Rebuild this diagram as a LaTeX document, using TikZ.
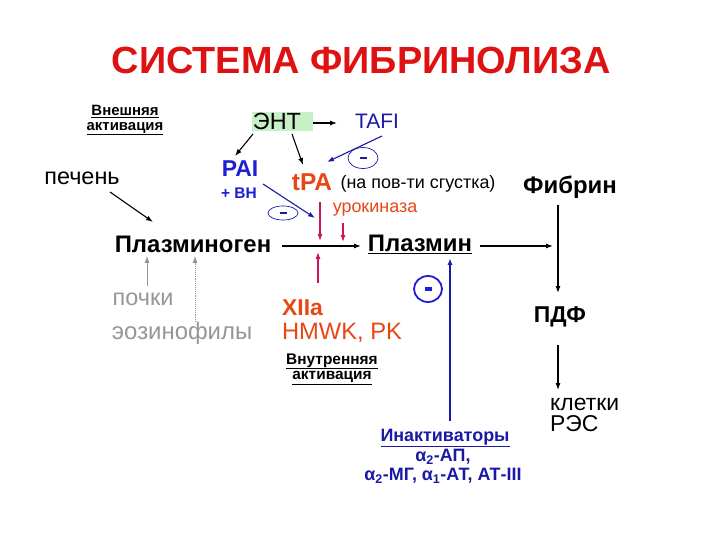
\documentclass[tikz,border=0pt]{standalone}
\usepackage{fontspec}
\setmainfont{Liberation Sans}
\usetikzlibrary{arrows.meta,shapes.geometric}
\definecolor{ttlred}{RGB}{222,18,18}
\definecolor{pblue}{RGB}{30,30,215}
\definecolor{dblue}{RGB}{25,25,165}
\definecolor{ored}{RGB}{232,70,20}
\definecolor{mag}{RGB}{205,20,95}
\definecolor{gry}{RGB}{150,150,150}
\definecolor{lgreen}{RGB}{200,240,200}
\newcommand\myfs[1]{\fontsize{#1}{#1}\selectfont}
\tikzset{
  txt/.style={inner sep=0pt, align=center},
  arr/.style={-{Latex[length=7pt,width=5pt]}, line width=1.1pt},
  minus/.style={ellipse, draw=dblue, line width=0.7pt, inner sep=0pt,
    path picture={\draw[draw=dblue, line width=2.6pt]
      ([xshift=-3.5bp]path picture bounding box.center) -- ([xshift=3.5bp]path picture bounding box.center);}},
  minusb/.style={ellipse, draw=pblue, line width=1.8pt, inner sep=0pt,
    path picture={\draw[draw=pblue, line width=3.5pt]
      ([xshift=-3.5bp]path picture bounding box.center) -- ([xshift=3.5bp]path picture bounding box.center);}},
}
\begin{document}
\begin{tikzpicture}[x=1bp,y=-1bp]
\useasboundingbox[fill=white] (0,0) rectangle (720,540);

\node[txt, text=ttlred, font=\bfseries\myfs{38}] (title) at (361,60) {СИСТЕМА ФИБРИНОЛИЗА};

\node[txt, font=\bfseries\myfs{15}] (ext) at (125,120) {\underline{Внешняя}\\[0pt]\underline{активация}};

\node[txt, fill=lgreen, minimum width=61bp, minimum height=19bp] (ent) at (282,122) {};
\node[txt, font=\myfs{23.5}] (entt) at (277,121) {ЭНТ};
\node[txt, text=dblue, font=\myfs{21}] (tafi) at (377,121) {TAFI};

\node[txt, text=pblue, font=\bfseries\myfs{23}] (pai) at (240,169) {PAI};
\node[txt, text=pblue, font=\bfseries\myfs{15.5}] (vn) at (239,193) {+ ВН};
\node[txt, text=ored, font=\bfseries\myfs{24.5}] (tpa) at (312,182) {tPA};
\node[txt, font=\myfs{18}] (surf) at (418,184) {(на пов-ти сгустка)};
\node[txt, font=\bfseries\myfs{24}] (fib) at (570,187) {Фибрин};
\node[txt, text=ored, font=\myfs{18}] (uro) at (375,210) {урокиназа};

\node[txt, font=\myfs{23.5}] (liver) at (82,178) {печень};

\node[txt, font=\bfseries\myfs{24}] (plg) at (193,244) {Плазминоген};
\node[txt, font=\bfseries\myfs{24}] (pl) at (420,244) {\underline{Плазмин}};

\node[txt, font=\bfseries\myfs{23}] (pdf) at (560,317) {ПДФ};
\node[txt, font=\myfs{23}, align=left, anchor=west] (res) at (550,415) {клетки\\[-2pt]РЭС};

\node[txt, text=gry, font=\myfs{23.5}] (kid) at (143,299) {почки};
\node[txt, text=gry, font=\myfs{24}] (eos) at (182,333) {эозинофилы};

\node[txt, text=ored, font=\bfseries\myfs{23}, anchor=west] (xii) at (282,308) {XIIa};
\node[txt, text=ored, font=\myfs{23.8}] (hmwk) at (342,333) {HMWK, PK};

\node[txt, font=\bfseries\myfs{15.5}] (int) at (332,369) {\underline{Внутренняя}\\[0pt]\underline{активация}};

\node[txt, text=dblue, font=\bfseries\myfs{18}] (inact) at (445,438) {\underline{Инактиваторы}};
\node[txt, text=dblue, font=\bfseries\myfs{18}] (a2ap) at (443,457) {α\textsubscript{2}-АП,};
\node[txt, text=dblue, font=\bfseries\myfs{18}] (a2mg) at (443,476) {α\textsubscript{2}-МГ, α\textsubscript{1}-АТ, АТ-III};

% minus ellipses
\node[minus, minimum width=30bp, minimum height=21bp] (m1) at (363,158) {};
\node[minus, minimum width=30bp, minimum height=14bp] (m2) at (283,213) {};
\node[minusb, minimum width=28bp, minimum height=26bp] (m3) at (428,289) {};

% coordinates
\coordinate (ea) at (313,123);
\coordinate (eb) at (337,123);
\coordinate (t1) at (382,136);
\coordinate (t2) at (327,162);
\coordinate (e1) at (253,134);
\coordinate (e2) at (235,156);
\coordinate (e3) at (292,134);
\coordinate (e4) at (303,165);
\coordinate (p1) at (263,184);
\coordinate (p2) at (315,218);
\coordinate (tp1) at (320,202);
\coordinate (tp2) at (320,241);
\coordinate (u1) at (343,223);
\coordinate (u2) at (343,242);
\coordinate (x1) at (318,283);
\coordinate (x2) at (318,252);
\coordinate (l1) at (110,192);
\coordinate (l2) at (153,222);
\coordinate (g1) at (282,246);
\coordinate (g2) at (361,246);
\coordinate (f1) at (480,246);
\coordinate (f2) at (553,246);
\coordinate (fv1) at (558,205);
\coordinate (fv2) at (558,293);
\coordinate (pd1) at (558,345);
\coordinate (pd2) at (558,390);
\coordinate (b1) at (450,421);
\coordinate (b2) at (450,258);
\coordinate (k1) at (147,286);
\coordinate (k2) at (147,256);
\coordinate (z1) at (195,322);
\coordinate (z2) at (195,256);

\draw[arr] (ea) -- (eb);
\draw[arr, draw=dblue] (t1) -- (t2);
\draw[arr] (e1) -- (e2);
\draw[arr] (e3) -- (e4);
\draw[arr, draw=dblue] (p1) -- (p2);
\draw[arr, draw=mag] (tp1) -- (tp2);
\draw[arr, draw=mag] (u1) -- (u2);
\draw[arr, draw=mag] (x1) -- (x2);
\draw[arr] (l1) -- (l2);
\draw[arr] (g1) -- (g2);
\draw[arr] (f1) -- (f2);
\draw[arr] (fv1) -- (fv2);
\draw[arr] (pd1) -- (pd2);
\draw[arr, draw=dblue, line width=1.4pt] (b1) -- (b2);
\draw[arr, draw=gry, line width=0.9pt] (k1) -- (k2);
\draw[arr, draw=gry, line width=0.9pt, densely dotted] (z1) -- (z2);
\end{tikzpicture}
\end{document}
